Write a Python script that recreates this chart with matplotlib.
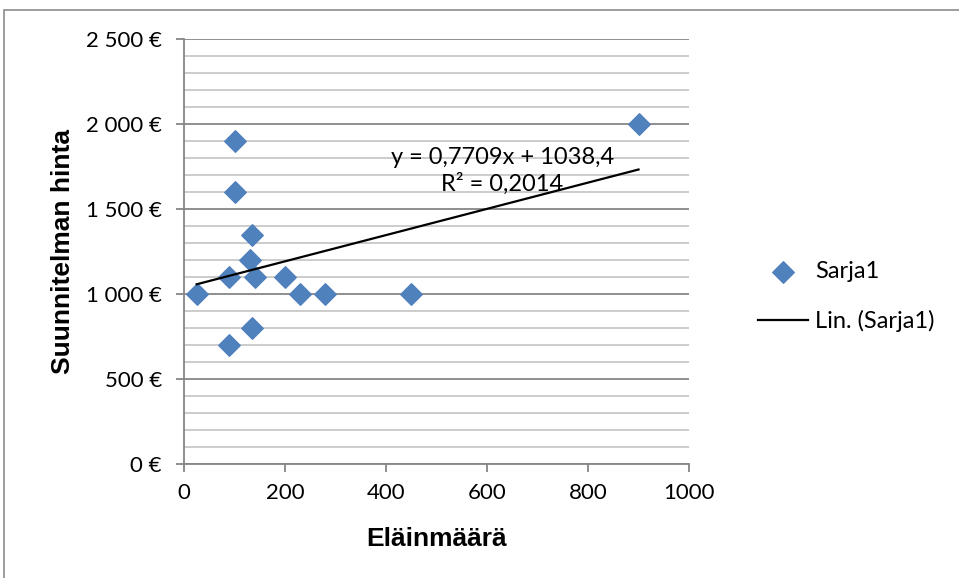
import matplotlib
matplotlib.use("Agg")
import matplotlib.pyplot as plt
from matplotlib.patches import Rectangle
from matplotlib.ticker import MultipleLocator, FuncFormatter
import numpy as np

# data (Eläinmäärä, Suunnitelman hinta)
elaimet = [25, 100, 100, 135, 130, 90, 140, 200, 230, 280, 450, 900, 135, 90]
hinta = [1000, 1900, 1600, 1350, 1200, 1100, 1100, 1100, 1000, 1000, 1000, 2000, 800, 700]
sarja = "Sarja1"
trend_teksti = "y = 0,7709x + 1038,4\nR² = 0,2014"

plt.rcParams['font.family'] = ['Lato', 'DejaVu Sans']

fig = plt.figure(figsize=(9.59, 5.78), dpi=100)
ax = fig.add_axes([0.1919, 0.1972, 0.7185 - 0.1919, 0.9325 - 0.1972])

# chart area border
fig.patches.append(Rectangle((4 / 959, -0.05), 1.2, 1 - 10 / 578 + 0.05,
                             transform=fig.transFigure, fill=False,
                             edgecolor='#8c8c8c', linewidth=1.2, zorder=0))

def euro(v, pos):
    s = f"{int(v):,}".replace(",", " ")
    return s + " €"

ax.set_xlim(0, 1000)
ax.set_ylim(0, 2500)
ax.xaxis.set_major_locator(MultipleLocator(200))
ax.yaxis.set_major_locator(MultipleLocator(500))
ax.yaxis.set_minor_locator(MultipleLocator(100))
ax.yaxis.set_major_formatter(FuncFormatter(euro))

ax.grid(axis='y', which='major', color='#868686', linewidth=1.3, zorder=0)
ax.grid(axis='y', which='minor', color='#bfbfbf', linewidth=1.1, zorder=0)
ax.set_axisbelow(True)

for s in ['top', 'right']:
    ax.spines[s].set_visible(False)
for s in ['left', 'bottom']:
    ax.spines[s].set_color('#868686')
    ax.spines[s].set_linewidth(1.3)

ax.tick_params(axis='both', which='major', direction='out', length=6, width=1.3,
               color='#868686', labelsize=16)
ax.tick_params(axis='x', pad=8)
ax.tick_params(axis='y', pad=10)
ax.tick_params(axis='y', which='minor', length=0)

ax.scatter(elaimet, hinta, marker='D', s=120, color='#4f81bd', zorder=3, label=sarja)

# linear trend
k, b = np.polyfit(elaimet, hinta, 1)
xs = np.array([min(elaimet), max(elaimet)])
ax.plot(xs, k * xs + b, color='black', linewidth=1.6, zorder=4, label="Lin. (" + sarja + ")")

ax.text(630, 1724, trend_teksti, ha='center', va='center', fontsize=17,
        linespacing=1.3, zorder=5)

ax.set_xlabel("Eläinmäärä", fontsize=19, fontweight='bold', family='Liberation Sans', labelpad=17)
ax.set_ylabel("Suunnitelman hinta", fontsize=19, fontweight='bold', family='Liberation Sans', labelpad=8)

leg = ax.legend(loc='center left', bbox_to_anchor=(1.137, 0.394), frameon=False,
                borderaxespad=0, borderpad=0,
                fontsize=17, handlelength=2.1, handletextpad=0.3, labelspacing=1.2)

fig.savefig("out.png", dpi=100)
